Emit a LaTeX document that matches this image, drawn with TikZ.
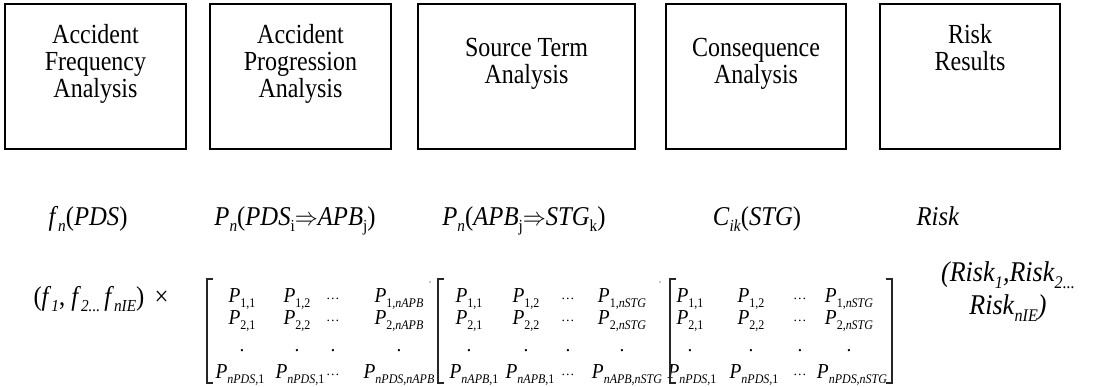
\documentclass[tikz,border=0pt]{standalone}
\usepackage{fontspec}
\setmainfont{Liberation Serif}
\usepackage{graphicx}

% text set slightly taller than wide, as in the equation editor output
\newcommand\st[1]{\scalebox{1}[1.15]{#1}}
\newcommand\sm[1]{\scalebox{1}[1.1]{#1}}
% lowered, reduced subscript
\newcommand\lo[1]{\raisebox{-0.25em}{\scalebox{0.62}{#1}}}
% matrix element P with subscript
\newcommand\Pm[1]{\sm{\textit{P}\lo{#1}}}
% horizontal ellipsis inside a matrix row
\newcommand\dd{\raisebox{0.12em}{\scalebox{0.7}{\dots}}}

\begin{document}
\begin{tikzpicture}[x=0.75pt,y=-0.75pt,
  box/.style={draw, line width=1.5pt, inner sep=0pt, outer sep=0pt,
              minimum height=108.75pt, anchor=north west},
  boxtext/.style={align=center, anchor=base, inner sep=0pt,
                  font={\fontsize{18}{19.9}\selectfont\lineskiplimit=-30pt}},
  formula/.style={font=\fontsize{18.5}{22}\selectfont, anchor=base, inner sep=0pt},
  cell/.style={font=\fontsize{14.5}{16}\selectfont, anchor=base, inner sep=0pt},
  brk/.style={line width=0.8pt, draw=black!85},
  speck/.style={fill=black!45},
]
\useasboundingbox (0,0) rectangle (1103,386);

% ---- analysis stages ----
\node[box, minimum width=135.75pt] (b1) at (5,4) {};
\node[box, minimum width=135.75pt] (b2) at (210,4) {};
\node[box, minimum width=162.75pt] (b3) at (418,4) {};
\node[box, minimum width=135pt]    (b4) at (666,4) {};
\node[box, minimum width=135pt]    (b5) at (880,4) {};

% captions (anchored at the baseline of their last line)
\node[boxtext] (t1) at (95.5,97) {\st{Accident}\\\st{Frequency}\\\st{Analysis}};
\node[boxtext] (t2) at (300.5,97) {\st{Accident}\\\st{Progression}\\\st{Analysis}};
\node[boxtext] (t3) at (526.5,83) {\st{Source Term}\\\st{Analysis}};
\node[boxtext] (t4) at (756,83) {\st{Consequence}\\\st{Analysis}};
\node[boxtext] (t5) at (970,70.5) {\st{Risk}\\\st{Results}};

% ---- quantities produced by each stage ----
\node[formula] (q1) at (88,225) {\sm{\textit{f}\lo{\textit{n}}(\textit{PDS})}};
\node[formula] (q2) at (295,225) {\sm{\textit{P}\lo{\textit{n}}(\textit{PDS}\lo{i}$\Rightarrow$\textit{APB}\lo{j})}};
\node[formula] (q3) at (524,225) {\sm{\textit{P}\lo{\textit{n}}(\textit{APB}\lo{j}$\Rightarrow$\textit{STG}\lo{k})}};
\node[formula] (q4) at (757,225) {\sm{\textit{C}\lo{\textit{ik}}(\textit{STG})}};
\node[formula] (q5) at (938,225) {\sm{\textit{Risk}}};

% ---- frequency vector ----
\node[formula] (fv) at (101,305) {\sm{(\textit{f}\lo{\textit{1}}, \textit{f}\lo{\textit{2}}\lo{\textit{...}}\,\textit{f}\lo{\textit{nIE}}) \,×}};

% ---- matrix 1: PDS -> APB ----
\foreach \c/\x/\t in {1/242/{\Pm{1,1}}, 2/297/{\Pm{1,2}}, 3/333/{\dd}, 4/399/{\Pm{1,\textit{nAPB}}}}
  \node[cell] (ma\c) at (\x,302) {\t};
\foreach \c/\x/\t in {1/242/{\Pm{2,1}}, 2/297/{\Pm{2,2}}, 3/333/{\dd}, 4/399/{\Pm{2,\textit{nAPB}}}}
  \node[cell] (mb\c) at (\x,324) {\t};
\foreach \c/\x in {1/242, 2/297, 3/333, 4/399}
  \node[cell] (mc\c) at (\x,351) {.};
\foreach \c/\x/\t in {1/240/{\Pm{\textit{nPDS},1}}, 2/300/{\Pm{\textit{nPDS},1}}, 3/333/{\dd}, 4/399/{\Pm{\textit{nPDS},\textit{nAPB}}}}
  \node[cell] (md\c) at (\x,378) {\t};

% ---- matrix 2: APB -> STG ----
\foreach \c/\x/\t in {1/469/{\Pm{1,1}}, 2/526/{\Pm{1,2}}, 3/568/{\dd}, 4/622/{\Pm{1,\textit{nSTG}}}}
  \node[cell] (na\c) at (\x,302) {\t};
\foreach \c/\x/\t in {1/469/{\Pm{2,1}}, 2/526/{\Pm{2,2}}, 3/568/{\dd}, 4/622/{\Pm{2,\textit{nSTG}}}}
  \node[cell] (nb\c) at (\x,324) {\t};
\foreach \c/\x in {1/469, 2/526, 3/568, 4/622}
  \node[cell] (nc\c) at (\x,351) {.};
\foreach \c/\x/\t in {1/474/{\Pm{\textit{nAPB},1}}, 2/530/{\Pm{\textit{nAPB},1}}, 3/568/{\dd}, 4/627/{\Pm{\textit{nAPB},\textit{nSTG}}}}
  \node[cell] (nd\c) at (\x,378) {\t};

% ---- matrix 3: STG -> consequence ----
\foreach \c/\x/\t in {1/690/{\Pm{1,1}}, 2/751/{\Pm{1,2}}, 3/800/{\dd}, 4/849/{\Pm{1,\textit{nSTG}}}}
  \node[cell] (pa\c) at (\x,302) {\t};
\foreach \c/\x/\t in {1/690/{\Pm{2,1}}, 2/751/{\Pm{2,2}}, 3/800/{\dd}, 4/849/{\Pm{2,\textit{nSTG}}}}
  \node[cell] (pb\c) at (\x,324) {\t};
\foreach \c/\x in {1/690, 2/751, 3/800, 4/849}
  \node[cell] (pc\c) at (\x,351) {.};
\foreach \c/\x/\t in {1/692/{\Pm{\textit{nPDS},1}}, 2/754/{\Pm{\textit{nPDS},1}}, 3/800/{\dd}, 4/852/{\Pm{\textit{nPDS},\textit{nSTG}}}}
  \node[cell] (pd\c) at (\x,378) {\t};

% ---- brackets ----
\draw[brk] (213,279) -| (207,383) -- (213,383);
\draw[brk] (444,279) -| (438,383) -- (444,383);
\draw[brk] (676,279) -| (670,383) -- (676,383);
\draw[brk] (886,279) -| (892,383) -- (886,383);
% remnants of the hidden closing brackets
\fill[speck] (430,282) circle (0.9);
\fill[speck] (430,381) circle (0.9);
\fill[speck] (660,282) circle (0.9);
\fill[speck] (660,381) circle (0.9);

% ---- risk vector ----
\node[formula, align=center, font={\fontsize{19.5}{24.5}\selectfont\lineskiplimit=-30pt}] (rv) at (1008,314)
  {\sm{\textit{(Risk}\lo{\textit{1}}\textit{,Risk}\lo{\textit{2...}}}\\\sm{\textit{Risk}\lo{\textit{nIE}}\textit{)}}};
\end{tikzpicture}
\end{document}
